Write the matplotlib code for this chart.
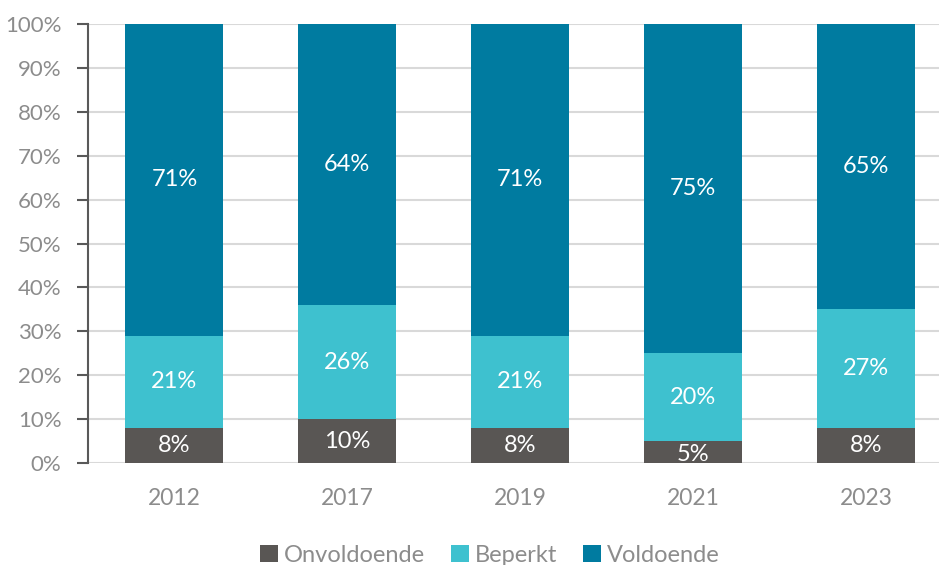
import matplotlib
matplotlib.use("Agg")
import matplotlib.pyplot as plt
import numpy as np
from matplotlib.patches import Patch

plt.rcParams['font.family'] = ['Lato', 'DejaVu Sans']

years = ["2012", "2017", "2019", "2021", "2023"]
series_names = ["Onvoldoende", "Beperkt", "Voldoende"]
onvoldoende = [8, 10, 8, 5, 8]
beperkt = [21, 26, 21, 20, 27]
voldoende = [71, 64, 71, 75, 65]
yticks = [0, 10, 20, 30, 40, 50, 60, 70, 80, 90, 100]

colors = ["#595654", "#3EC1CF", "#007BA0"]

W, H = 939, 565
fig = plt.figure(figsize=(W / 100, H / 100), dpi=100)
left_px, right_px, top_px, bottom_px = 88, 939, 24, 463
ax = fig.add_axes([left_px / W, (H - bottom_px) / H,
                   (right_px - left_px) / W, (bottom_px - top_px) / H])

spacing_px = 172.9
x = np.arange(len(years))
width = 98 / spacing_px
bottom = np.zeros(len(years))
for vals, col in zip([onvoldoende, beperkt, voldoende], colors):
    vals = np.array(vals, dtype=float)
    ax.bar(x, vals, width, bottom=bottom, color=col, zorder=3)
    for xi, b, v in zip(x, bottom, vals):
        yc = b + v / 2
        if v < 6:
            yc = b + v / 2 - 0.6
        ax.text(xi, yc, f"{int(v)}%", ha="center", va="center",
                color="white", fontsize=17, zorder=4)
    bottom += vals

ax.set_xlim(-0.5, -0.5 + (right_px - left_px) / spacing_px)
ax.set_ylim(0, 100)
ax.set_yticks(yticks)
ax.set_yticklabels([f"{t}%" for t in yticks])
ax.set_xticks(x)
ax.set_xticklabels(years)
ax.grid(axis="y", color="#D9D9D9", linewidth=1.5, zorder=0)
for s in ["top", "right", "bottom"]:
    ax.spines[s].set_visible(False)
ax.spines["left"].set_color("#595959")
ax.spines["left"].set_linewidth(1.5)
ax.tick_params(axis="y", colors="#595959", labelcolor="#8C8C8C",
               labelsize=16, length=8, width=1.5, pad=11)
ax.tick_params(axis="x", length=0, labelcolor="#8C8C8C", labelsize=16.5, pad=18)

handles = [Patch(facecolor=c, edgecolor="none") for c in colors]
fig.legend(handles, series_names, loc="center",
           bbox_to_anchor=(490 / W, 1 - 555 / H),
           ncol=3, frameon=False, fontsize=17, labelcolor="#8C8C8C",
           handlelength=0.75, handleheight=0.75, handletextpad=0.25,
           columnspacing=1.1)

fig.savefig("out.png", dpi=100)
